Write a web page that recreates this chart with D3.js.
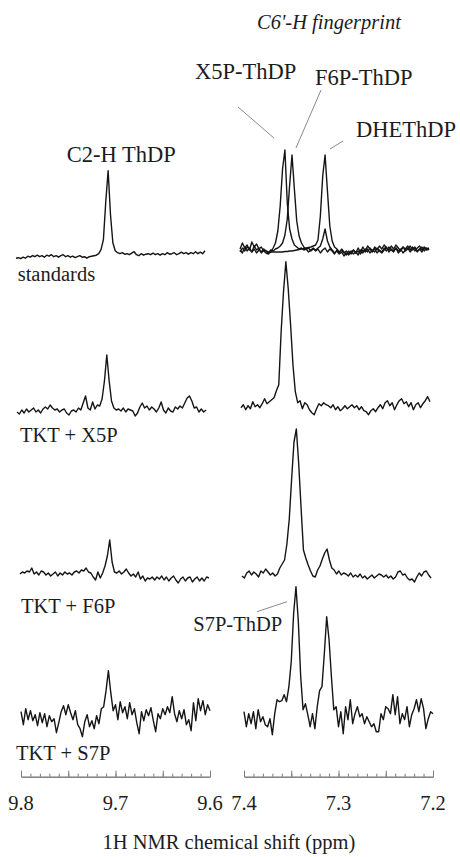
<!DOCTYPE html>
<html>
<head>
<meta charset="utf-8">
<script src="https://cdn.jsdelivr.net/npm/d3@7"></script>
<style>
  body { margin: 0; background: #fff; }
</style>
</head>
<body>
<svg id="chart" width="460" height="857" style="font-family: 'Liberation Serif', 'Times New Roman', serif;"></svg>
<script>
// 数据：每条谱线按 0.0025 ppm 间隔取值（强度单位≈像素高度）
const rowNames = ["standards", "TKT + X5P", "TKT + F6P", "TKT + S7P"];
const ppmStep = 0.0025;
const leftStart = [9.8053, 9.8042, 9.8011, 9.8000];
const rightStart = [7.4042, 7.4032, 7.4021, 7.4000];
const leftTicks = [9.8, 9.7, 9.6];
const rightTicks = [7.4, 7.3, 7.2];

// C2-H 区域 (9.8–9.6 ppm)
const c2hStandards = [-1.5,-1,-2,-0.5,-1.5,0.5,-0.5,1,0,1.5, 0,1,-0.5,1.5,0.5,2,0,1,-0.5,1,
  2,0,1,-0.5,0.5,-1,0,1,-0.5,0, -1.5,0,0.5,1,1.5,3,7,17,55,86, 42,14,6,4,3,4,2.5,3,2,3.5,
  5,2,1,3,1.5,2.5,3,2,3.5,2, 3,1.5,3,2,4,2.5,3,4,2,3, 4.5,3,4,2.5,4,3,5,3,4.5,3,6];
const c2hX5P = [-1,-3,1,-2,2,-1,1,3,-1,1, -2,2,4,2,6,3,1,2,-1,1, 2,-2,-4,0,1,-1,3,1,8,15,
  3,1,9,2,6,5,12,30,56,30, 10,3,1,2,0,3,-1,2,1,0, -5,-2,4,8,3,5,1,4,2,-1,
  3,9,1,-2,3,0,-1,4,2,5, 3,8,13,15,10,3,4,-1,2,-1,1];
const c2hF6P = [0,2,1,3,2,6,0,2,-1,3, 2,-1,1,-2,0,2,-2,1,-1,2, 0,1,-1,2,3,1,4,3,6,2,
  1,-3,-6,2,-4,1,8,18,34,12, 2,1,3,0,2,5,1,-2,0,-3, 2,-5,-2,-7,-4,-5,-3,-6,-3,-5,
  -2,-6,-3,-7,-4,-2,-6,-9,-5,-3, -7,-4,-3,-8,-5,-3,-7,-4,-7,-3,-4];
const c2hS7P = [5,-8,8,-3,6,-4,2,-9,4,-6, 3,-10,1,-5,-2,-16,-6,5,11,2, 12,4,-3,6,-8,-12,-20,-5,2,-10,
  -4,-12,1,-7,8,10,26,46,24,6, 12,-3,15,4,10,-2,14,2,8,-6, -17,5,-4,7,1,9,-4,-15,3,-2,
  8,2,10,4,20,3,-5,6,-2,7, -8,-3,-14,14,-4,18,6,16,2,12,6];

// C6'-H 区域 (7.4–7.2 ppm)；标准品三条叠加
const c6X5PStd = [2,8,3,6,1,9,4,7,2,4, 0,-2,-3,-1,3,8,20,45,82,101, 48,22,12,6,4,2,3,1,2,-1,
  1,3,0,2,-2,1,3,-1,2,0, -3,1,-2,2,-1,-4,0,-3,1,-2, 3,-1,4,0,5,2,-1,4,1,5,
  2,6,3,1,5,2,6,3,0,4, 2,5,1,4,0,3,5,1,4,2,3];
const c6F6PStd = [-1,3,0,4,2,-1,5,1,3,-2, 1,0,-2,1,0,2,3,5,8,16, 32,66,96,62,30,15,8,4,2,3,
  0,2,1,3,5,12,22,10,4,1, -2,0,-3,-1,-5,-2,-4,0,-3,-1, -4,1,-2,2,-1,3,0,2,-2,1,
  -1,3,0,4,1,-1,3,0,2,-2, 1,3,-1,2,4,0,2,-1,3,1,2];
const c6DHEStd = [1,-2,4,0,3,-1,2,-2,1,-1, 2,0,-1,-1,-1,-1,-1,-1,-1,-0.5, -0.5,0,0,0.5,1,1.5,2,2.5,3,3.5,
  4,5,6,11,35,75,96,60,25,10, 4,2,-1,1,-2,0,-3,-1,1,-2, 0,-3,1,-1,2,-2,1,-1,3,0,
  -2,1,4,-1,2,0,3,-2,1,4, 0,2,5,1,3,-1,2,4,0,3,1];
const c6X5P = [-1,2,-3,1,-2,5,0,2,-1,3, 8,3,5,7,9,16,22,75,115,145, 118,82,42,15,4,6,-2,4,2,-3,
  -6,-8,-2,3,1,4,2,1,-1,2, -3,0,-4,-2,1,-2,0,2,-1,1, -3,0,-4,-5,-8,-4,-2,-5,-1,2,
  -2,4,6,1,4,-3,2,6,8,3, 5,0,4,-3,2,4,-1,3,6,10,5];
const c6F6P = [-2,-4,1,3,-1,2,0,-3,3,1, 5,2,-1,1,-2,0,6,10,14,30, 55,95,132,145,110,66,24,16,9,3,
  -2,-3,4,8,15,21,25,14,6,4, 0,3,-1,1,0,-2,1,-3,-1,-3, 0,-4,-2,-5,-3,-1,-4,-2,0,-1,
  -3,-1,-4,-2,-5,-3,2,3,-1,0, -4,-6,-5,-8,-3,1,-2,2,3,-1,-4];
const c6S7P = [5,-10,3,-7,5,-12,7,-5,0,-8, -10,-2,-18,3,17,15,16,22,15,30, 55,103,130,95,40,7,13,2,-10,3,
  -12,10,26,30,63,100,77,40,7,10, -10,5,-17,10,-3,17,-7,3,10,0, 3,-7,0,-5,-10,-7,-15,-15,3,-3,
  10,8,3,22,2,20,-7,3,-3,10, -10,2,8,17,5,18,8,-12,-2,5,3];

const leftTraces = [[c2hStandards], [c2hX5P], [c2hF6P], [c2hS7P]];
const rightTraces = [[c6X5PStd, c6F6PStd, c6DHEStd], [c6X5P], [c6F6P], [c6S7P]];

// 峰标注指示线：起点/终点 = [ppm, 强度]
const peakLabels = [
  { text: "X5P-ThDP", row: 0, from: [7.4063, 144], to: [7.3683, 113] },
  { text: "F6P-ThDP", row: 0, from: [7.3185, 161], to: [7.3450, 103] },
  { text: "DHEThDP", row: 0, from: [7.2952, 110], to: [7.3090, 102] },
  { text: "S7P-ThDP", row: 3, from: [7.3545, 115], to: [7.3862, 105] }
];

// 布局
const FONT = "'Liberation Serif', 'Times New Roman', Times, serif";
const svg = d3.select("#chart");
const xLeft = d3.scaleLinear().domain([9.8, 9.6]).range([21, 210]);
const xRight = d3.scaleLinear().domain([7.4, 7.2]).range([244, 433]);
const leftBase = [256.7, 411, 574, 716.7];
const rightBase = [251, 406.7, 574, 716.7];
const axisY = 776.7;

const yFor = base => d3.scaleLinear().domain([0, 100]).range([base, base - 100]);

function drawTraces(traces, starts, bases, x) {
  traces.forEach((set, r) => {
    const y = yFor(bases[r]);
    const line = d3.line()
      .x((d, i) => x(starts[r] - i * ppmStep))
      .y(d => y(d));
    set.forEach(vals => {
      svg.append("path")
        .datum(vals)
        .attr("d", line)
        .attr("fill", "none")
        .attr("stroke", "#151515")
        .attr("stroke-width", 1.4)
        .attr("stroke-linejoin", "round");
    });
  });
}
drawTraces(leftTraces, leftStart, leftBase, xLeft);
drawTraces(rightTraces, rightStart, rightBase, xRight);

// 指示线
peakLabels.forEach(p => {
  const y = yFor(rightBase[p.row]);
  svg.append("line")
    .attr("x1", xRight(p.from[0])).attr("y1", y(p.from[1]))
    .attr("x2", xRight(p.to[0])).attr("y2", y(p.to[1]))
    .attr("stroke", "#8a8a8a").attr("stroke-width", 1);
});

// 文字
const addText = (t, x, y, size, anchor, italic) => svg.append("text")
  .attr("x", x).attr("y", y)
  .attr("text-anchor", anchor || "start")
  .style("font-family", FONT)
  .style("font-size", size + "px")
  .style("font-style", italic ? "italic" : "normal")
  .style("fill", "#1c1c1c")
  .text(t);

addText("C6'-H fingerprint", 257, 29.3, 20.5, "start", true);
addText("X5P-ThDP", 195, 79.3, 22.5);
addText("F6P-ThDP", 315, 85, 22.5);
addText("DHEThDP", 356, 136.7, 22.5);
addText("C2-H ThDP", 66.7, 162.3, 22.5);
addText("S7P-ThDP", 193.3, 630.7, 20.5);

const rowLabelPos = [[17.7, 280.7], [20, 442.3], [21, 612.7], [16, 760]];
rowNames.forEach((n, i) => addText(n, rowLabelPos[i][0], rowLabelPos[i][1], 20.5));

// 坐标轴（刻度朝上）
function drawAxis(x) {
  const a = x.domain()[0];
  const minor = d3.range(0, 21).map(i => +(a - i * 0.01).toFixed(3));
  const major = d3.range(0, 5).map(i => +(a - i * 0.05).toFixed(3));
  const gMinor = svg.append("g").attr("transform", `translate(0,${axisY})`)
    .call(d3.axisTop(x).tickValues(minor).tickSize(3).tickSizeOuter(0).tickFormat(""));
  const gMajor = svg.append("g").attr("transform", `translate(0,${axisY})`)
    .call(d3.axisTop(x).tickValues(major).tickSize(6).tickSizeOuter(0).tickFormat(""));
  [gMinor, gMajor].forEach(g => {
    g.selectAll("path,line").attr("stroke", "#7a7a7a").attr("stroke-width", 1);
  });
}
drawAxis(xLeft);
drawAxis(xRight);

const tickText = (ticks, x) => ticks.forEach(t => addText(d3.format(".1f")(t), x(t), 809.5, 20.5, "middle"));
tickText(leftTicks, xLeft);
tickText(rightTicks, xRight);

addText("1H NMR chemical shift (ppm)", 229, 848.5, 20.5, "middle");
</script>
</body>
</html>
